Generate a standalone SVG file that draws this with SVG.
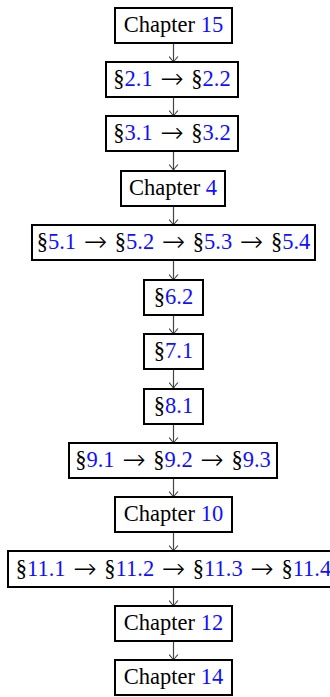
<svg xmlns="http://www.w3.org/2000/svg" width="330" height="697" viewBox="0 0 330 697">
<defs>
<marker id="arr" viewBox="-6 -5 7 10" refX="0" refY="0" markerWidth="7" markerHeight="10" markerUnits="userSpaceOnUse" orient="auto">
<path d="M-5.5,-4.5 Q-1.5,-1 0,0 Q-1.5,1 -5.5,4.5" fill="none" stroke="#333" stroke-width="1.1"/>
</marker>
</defs>
<style>
.b{fill:#fff;stroke:#000;stroke-width:2}
.t{font-family:"Liberation Serif","Times New Roman",serif;font-size:22.5px;fill:#000;text-anchor:middle}
.s{word-spacing:2px}
.l{fill:#1010ff}
.a{font-family:"DejaVu Sans",sans-serif;font-weight:200;font-size:28px}
.c{stroke:#444;stroke-width:1.2;fill:none;marker-end:url(#arr)}
</style>
<g id="connectors">
<line class="c" x1="173.5" y1="43" x2="173.5" y2="62"/>
<line class="c" x1="173.5" y1="97" x2="173.5" y2="116"/>
<line class="c" x1="173.5" y1="151" x2="173.5" y2="170"/>
<line class="c" x1="173.5" y1="206" x2="173.5" y2="225"/>
<line class="c" x1="173.5" y1="260" x2="173.5" y2="280"/>
<line class="c" x1="173.5" y1="315" x2="173.5" y2="334"/>
<line class="c" x1="173.5" y1="369" x2="173.5" y2="388"/>
<line class="c" x1="173.5" y1="424" x2="173.5" y2="443"/>
<line class="c" x1="173.5" y1="478" x2="173.5" y2="497"/>
<line class="c" x1="173.5" y1="532" x2="173.5" y2="551"/>
<line class="c" x1="173.5" y1="587" x2="173.5" y2="606"/>
<line class="c" x1="173.5" y1="641" x2="173.5" y2="660"/>
</g>
<g id="n1"><rect class="b" x="115" y="8" width="117" height="35"/><text class="t" x="173.5" y="32">Chapter <tspan class="l">15</tspan></text></g>
<g id="n2"><rect class="b" x="106" y="62" width="132" height="35"/><text class="t s" x="172" y="86">§<tspan class="l">2.1</tspan> <tspan class="a" dy="2">→</tspan><tspan dy="-2"> §</tspan><tspan class="l">2.2</tspan></text></g>
<g id="n3"><rect class="b" x="106" y="116" width="132" height="35"/><text class="t s" x="172" y="140">§<tspan class="l">3.1</tspan> <tspan class="a" dy="2">→</tspan><tspan dy="-2"> §</tspan><tspan class="l">3.2</tspan></text></g>
<g id="n4"><rect class="b" x="121" y="171" width="104" height="35"/><text class="t" x="173" y="195">Chapter <tspan class="l">4</tspan></text></g>
<g id="n5"><rect class="b" x="32" y="225" width="283" height="35"/><text class="t s" x="173.5" y="249">§<tspan class="l">5.1</tspan> <tspan class="a" dy="2">→</tspan><tspan dy="-2"> §</tspan><tspan class="l">5.2</tspan> <tspan class="a" dy="2">→</tspan><tspan dy="-2"> §</tspan><tspan class="l">5.3</tspan> <tspan class="a" dy="2">→</tspan><tspan dy="-2"> §</tspan><tspan class="l">5.4</tspan></text></g>
<g id="n6"><rect class="b" x="144" y="280" width="59" height="35"/><text class="t" x="173.5" y="304">§<tspan class="l">6.2</tspan></text></g>
<g id="n7"><rect class="b" x="144" y="334" width="59" height="35"/><text class="t" x="173.5" y="358">§<tspan class="l">7.1</tspan></text></g>
<g id="n8"><rect class="b" x="144" y="389" width="59" height="35"/><text class="t" x="173.5" y="413">§<tspan class="l">8.1</tspan></text></g>
<g id="n9"><rect class="b" x="69" y="443" width="208" height="35"/><text class="t s" x="173" y="467">§<tspan class="l">9.1</tspan> <tspan class="a" dy="2">→</tspan><tspan dy="-2"> §</tspan><tspan class="l">9.2</tspan> <tspan class="a" dy="2">→</tspan><tspan dy="-2"> §</tspan><tspan class="l">9.3</tspan></text></g>
<g id="n10"><rect class="b" x="115" y="497" width="117" height="35"/><text class="t" x="173.5" y="521">Chapter <tspan class="l">10</tspan></text></g>
<g id="n11"><rect class="b" x="8" y="551" width="331" height="36"/><text class="t s" x="173.5" y="576">§<tspan class="l">11.1</tspan> <tspan class="a" dy="2">→</tspan><tspan dy="-2"> §</tspan><tspan class="l">11.2</tspan> <tspan class="a" dy="2">→</tspan><tspan dy="-2"> §</tspan><tspan class="l">11.3</tspan> <tspan class="a" dy="2">→</tspan><tspan dy="-2"> §</tspan><tspan class="l">11.4</tspan></text></g>
<g id="n12"><rect class="b" x="115" y="606" width="117" height="35"/><text class="t" x="173.5" y="630">Chapter <tspan class="l">12</tspan></text></g>
<g id="n13"><rect class="b" x="115" y="660" width="117" height="35"/><text class="t" x="173.5" y="684">Chapter <tspan class="l">14</tspan></text></g>
</svg>
